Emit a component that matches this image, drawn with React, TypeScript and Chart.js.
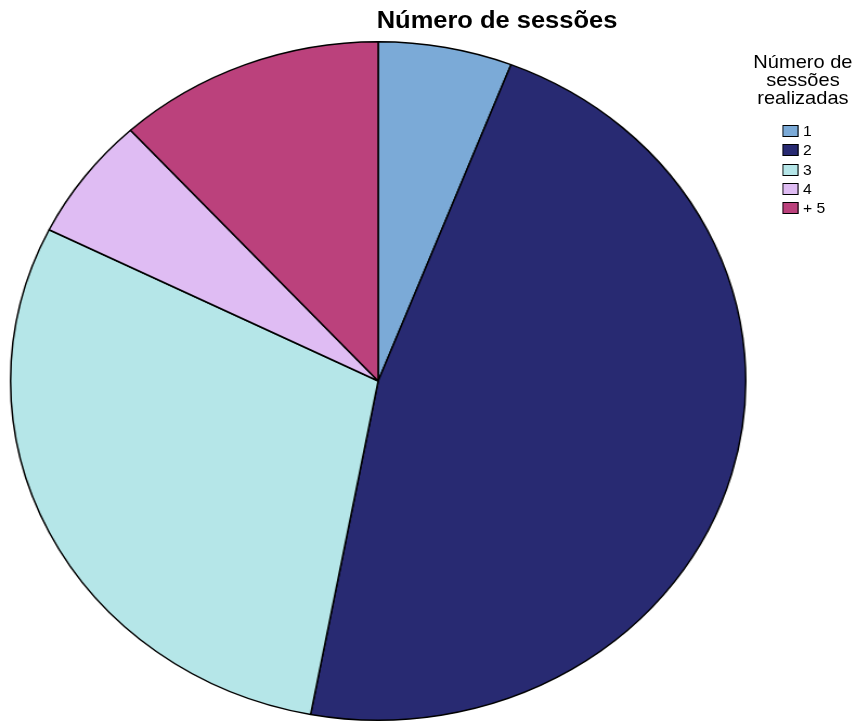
import React, { useEffect, useRef } from "react";
import { Chart, registerables } from "chart.js";

Chart.register(...registerables);

// ---- data ----
const categories = ["1", "2", "3", "4", "+ 5"];
const sessionCounts = [1, 8, 5, 1, 2];
const sliceColors = ["#7BAAD7", "#282A72", "#B5E6E8", "#DFBCF3", "#BB417C"];
const chartTitle = "Número de sessões";
const legendTitleLines = ["Número de", "sessões", "realizadas"];

const FONT = '"Liberation Sans", Arial, Helvetica, sans-serif';
const BASE_W = 790;
const H = 722;
const SCALE_X = 856 / BASE_W;

export default function App() {
  const ref = useRef<HTMLCanvasElement | null>(null);

  useEffect(() => {
    const chart = new Chart(ref.current as HTMLCanvasElement, {
      type: "pie",
      data: {
        labels: categories,
        datasets: [
          {
            data: sessionCounts,
            backgroundColor: sliceColors,
            borderColor: "#000000",
            borderWidth: 1.5,
          },
        ],
      },
      options: {
        responsive: false,
        animation: false,
        events: [],
        layout: { padding: { top: 41, bottom: 1, left: 9, right: 101 } },
        plugins: {
          legend: { display: false },
          title: { display: false },
          tooltip: { enabled: false },
        },
      },
    });
    return () => chart.destroy();
  }, []);

  const legendCenterX = 741;
  const rowTop0 = 125;
  const rowStep = 19.3;

  return (
    <div
      style={{
        position: "absolute",
        left: 0,
        top: 0,
        width: BASE_W,
        height: H,
        transform: `scaleX(${SCALE_X})`,
        transformOrigin: "0 0",
        background: "#ffffff",
        fontFamily: FONT,
        color: "#000000",
      }}
    >
      <canvas
        ref={ref}
        width={BASE_W}
        height={H}
        style={{ position: "absolute", left: 0, top: 0, width: BASE_W, height: H }}
      />
      <div
        style={{
          position: "absolute",
          left: 458.7 - 200,
          width: 400,
          top: 9.2,
          textAlign: "center",
          fontWeight: "bold",
          fontSize: 23.5,
          lineHeight: "23.5px",
          whiteSpace: "nowrap",
        }}
      >
        {chartTitle}
      </div>
      <div
        style={{
          position: "absolute",
          left: legendCenterX - 80,
          width: 160,
          top: 52.5,
          textAlign: "center",
          fontSize: 18.5,
          lineHeight: "18px",
          whiteSpace: "nowrap",
        }}
      >
        {legendTitleLines.map((l, i) => (
          <div key={i}>{l}</div>
        ))}
      </div>
      {categories.map((c, i) => (
        <div
          key={c}
          style={{
            position: "absolute",
            left: 722,
            top: rowTop0 + i * rowStep,
            height: 12,
            display: "flex",
            alignItems: "flex-start",
            whiteSpace: "nowrap",
          }}
        >
          <span
            style={{
              display: "inline-block",
              width: 15,
              height: 12,
              boxSizing: "border-box",
              border: "1px solid #000",
              background: sliceColors[i],
            }}
          />
          <span style={{ marginLeft: 4, fontSize: 14.5, lineHeight: "12px" }}>{c}</span>
        </div>
      ))}
    </div>
  );
}
